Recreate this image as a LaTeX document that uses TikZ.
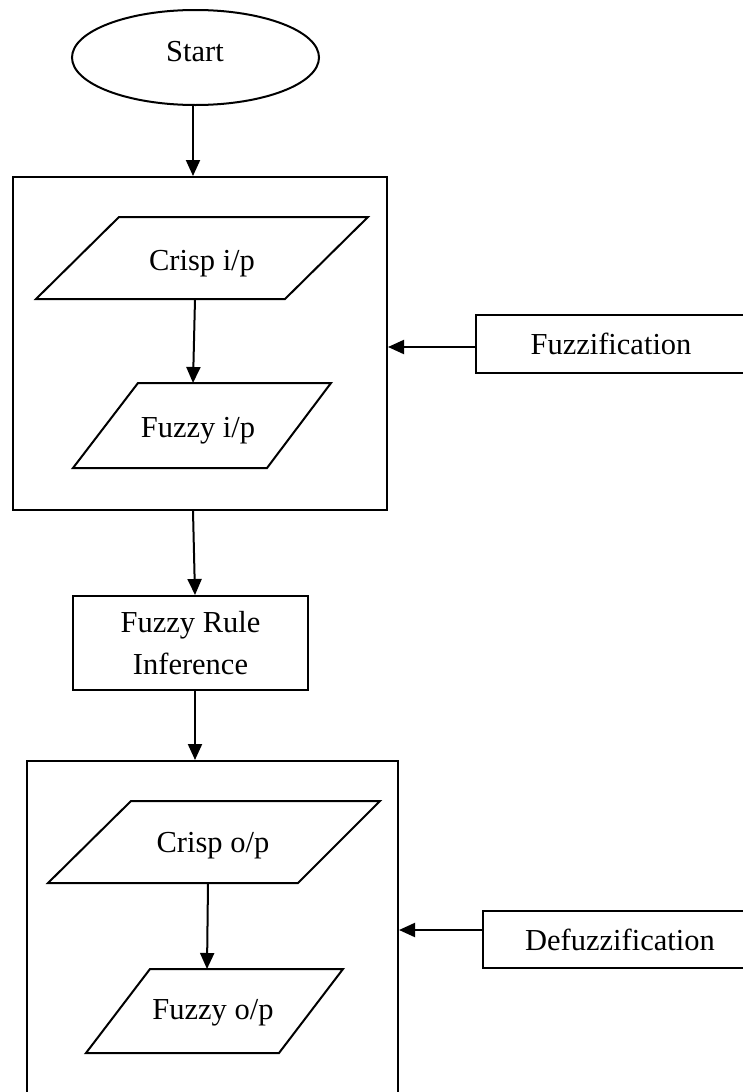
\documentclass[tikz,border=0pt]{standalone}
\usepackage{fontspec}
\setmainfont{Liberation Serif}
\usetikzlibrary{arrows.meta,shapes.geometric}
\begin{document}
\begin{tikzpicture}[x=1pt,y=-1pt,line width=2pt,
  font=\fontsize{30.5}{42}\selectfont,
  box/.style={draw,rectangle,inner sep=0pt,align=center},
  io/.style={draw,line join=miter},
  lbl/.style={inner sep=0pt,align=center},
  arr/.style={-{Triangle[length=16pt,width=14pt]}}]
\useasboundingbox (0,0) rectangle (743,1092);
\clip (0,0) rectangle (743,1092);

% start terminal
\node[draw,ellipse,inner sep=0pt,minimum width=247pt,minimum height=95pt] (start) at (195.5,57.5) {};
\node[lbl] (starttxt) at (195,52) {Start};

% fuzzification block
\node[box,minimum width=374pt,minimum height=333pt] (fuzzblk) at (200,343.5) {};
\draw[io] (119,217) -- (368,217) -- (285,299) -- (36,299) -- cycle;
\node[lbl] (crispin) at (202,264) {Crisp i/p};
\coordinate (crispin-s) at (195,299);
\draw[io] (138,383) -- (331,383) -- (267,468) -- (73,468) -- cycle;
\node[lbl] (fuzzyin) at (198,431) {Fuzzy i/p};
\coordinate (fuzzyin-n) at (193,383);

\node[box,minimum width=270pt,minimum height=58pt] (fuzzlbl) at (611,344) {Fuzzification};

% rule inference
\node[box,minimum width=235pt,minimum height=94pt] (rules) at (190.5,643) {Fuzzy Rule\\Inference};

% defuzzification block
\node[box,minimum width=371pt,minimum height=400pt] (defuzzblk) at (212.5,961) {};
\draw[io] (131,801) -- (380,801) -- (298,883) -- (48,883) -- cycle;
\node[lbl] (crispout) at (213,846) {Crisp o/p};
\coordinate (crispout-s) at (208,883);
\draw[io] (150,969) -- (343,969) -- (279,1053) -- (86,1053) -- cycle;
\node[lbl] (fuzzyout) at (213,1013) {Fuzzy o/p};
\coordinate (fuzzyout-n) at (207,969);

\node[box,minimum width=274pt,minimum height=57pt] (defuzzlbl) at (620,939.5) {Defuzzification};

% connectors
\draw[arr] (start.south -| 193,0) -- (193,0 |- fuzzblk.north);
\draw[arr] (crispin-s) -- (fuzzyin-n);
\draw[arr] (fuzzlbl.west |- 0,347) -- (fuzzblk.east |- 0,347);
\draw[arr] (193,0 |- fuzzblk.south) -- (195,0 |- rules.north);
\draw[arr] (rules.south -| 195,0) -- (195,0 |- defuzzblk.north);
\draw[arr] (crispout-s) -- (fuzzyout-n);
\draw[arr] (defuzzlbl.west |- 0,930) -- (defuzzblk.east |- 0,930);
\end{tikzpicture}
\end{document}
